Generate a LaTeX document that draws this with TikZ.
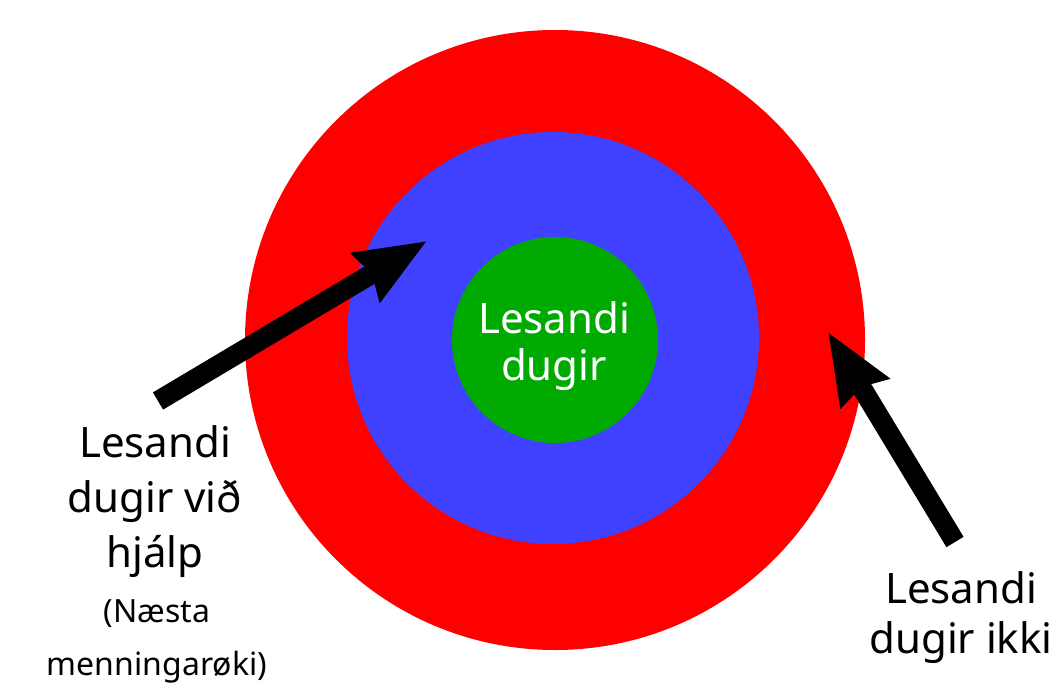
\documentclass[tikz,border=0pt]{standalone}
\usepackage{fontspec}
\setmainfont{Noto Sans}
\usetikzlibrary{arrows.meta}
\definecolor{ringred}{HTML}{FF0000}
\definecolor{ringblue}{HTML}{4040FF}
\definecolor{ringgreen}{HTML}{00AA00}
\tikzset{
  bigarrow/.style={line width=20pt, -{Stealth[length=70pt, width=54pt, inset=6pt]}},
  biglabel/.style={align=center, font=\fontsize{42}{55}\selectfont, inner sep=0pt, anchor=base},
  smalllabel/.style={align=center, font=\fontsize{32}{53}\selectfont, inner sep=0pt, anchor=base}
}
\begin{document}
\begin{tikzpicture}[x=1pt,y=-1pt]
\useasboundingbox (0,0) rectangle (1057,685);
\fill[ringred] (555,340) circle[radius=310];
\fill[ringblue] (553,338) circle[radius=206];
\fill[ringgreen] (555,340) circle[radius=103];
\node[biglabel, text=white, font=\fontsize{42}{47}\selectfont] (inner) at (554,380) {Lesandi\\dugir};
\node[biglabel] (helpA) at (155,567) {Lesandi\\dugir við\\hjálp};
\node[smalllabel] (helpB) at (157,675) {(Næsta\\menningarøki)};
\node[biglabel, font=\fontsize{42}{50}\selectfont] (notA) at (961,653) {Lesandi\\dugir ikki};
\coordinate (lt) at (158,401);
\coordinate (lh) at (427,241);
\coordinate (rt) at (955,542);
\coordinate (rh) at (828,332);
\draw[bigarrow] (lt) -- (lh);
\draw[bigarrow] (rt) -- (rh);
\end{tikzpicture}
\end{document}
